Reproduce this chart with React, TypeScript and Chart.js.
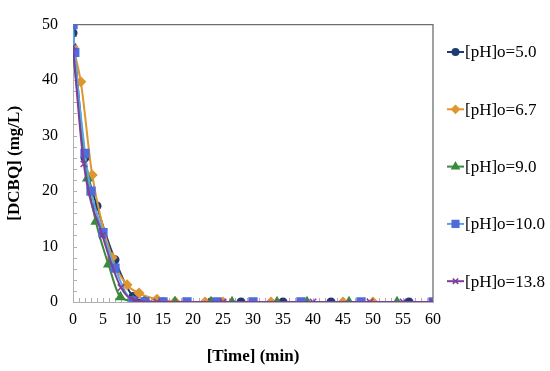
import React, { useEffect, useRef } from 'react';
import { Chart, registerables } from 'chart.js';
import { drawPoint } from 'chart.js/helpers';

Chart.register(...registerables);

const seriesLabels = ['[pH]o=5.0', '[pH]o=6.7', '[pH]o=9.0', '[pH]o=10.0', '[pH]o=13.8'];

const time50 = [0, 2, 4, 7, 10, 12, 15, 23, 28, 35, 43, 56];
const dcbq50 = [48.5, 26, 17.3, 7.6, 1.0, 0.2, 0, 0, 0, 0, 0, 0];

const time67 = [0, 1.3, 3.2, 6.5, 9, 11, 14, 17, 22, 25, 33, 45, 50];
const dcbq67 = [46, 39.7, 22.9, 8, 3.1, 1.6, 0.5, 0.1, 0, 0, 0, 0, 0];

const time90 = [0, 2.4, 3.8, 5.9, 7.9, 10, 12, 17, 23, 26.5, 34, 39, 46, 54];
const dcbq90 = [45, 22.3, 14.5, 6.8, 0.9, 0.2, 0, 0, 0, 0, 0, 0, 0, 0];

const time100 = [0, 0.3, 2, 3, 5, 7, 10, 12, 15, 19, 24, 30, 38, 48, 60];
const dcbq100 = [50, 45, 26.8, 20, 12.5, 6.1, 0.2, 0, 0, 0, 0, 0, 0, 0, 0];

const time138 = [0, 1.8, 4.9, 8, 10.3, 14, 25, 40, 49.5, 55, 60];
const dcbq138 = [46, 24.9, 12, 2.6, 0.3, 0, 0, 0, 0, 0, 0];

const xTicks = { min: 0, max: 60, step: 5 };
const yTicks = { min: 0, max: 50, step: 10 };

const FONT = '"Liberation Serif", "Times New Roman", serif';

const toPoints = (t: number[], v: number[]) => t.map((x, i) => ({ x, y: v[i] }));

const styles = [
  { line: '#1F3B73', fill: '#1F3B73', point: 'circle', r: 3.8 },
  { line: '#E0962E', fill: '#E0962E', point: 'rectRot', r: 4.5 },
  { line: '#3A8A3A', fill: '#3A8A3A', point: 'triangle', r: 4.8 },
  { line: '#55A8E0', fill: '#4F6CD8', point: 'rect', r: 5.5 },
  { line: '#7E3D9A', fill: '#7E3D9A', point: 'crossRot', r: 4.5 },
];

const framePlugin = {
  id: 'frame',
  beforeDatasetsDraw(chart: any) {
    const { ctx, chartArea } = chart;
    const { left, right, top, bottom } = chartArea;
    const xs = chart.scales.x;
    const ys = chart.scales.y;
    ctx.save();
    ctx.strokeStyle = '#6f6f6f';
    ctx.lineWidth = 1.3;
    ctx.beginPath();
    ctx.moveTo(left, top);
    ctx.lineTo(right, top);
    ctx.lineTo(right, bottom);
    ctx.stroke();
    ctx.strokeStyle = '#b0b0b0';
    ctx.lineWidth = 1;
    ctx.beginPath();
    for (let t = xTicks.min; t <= xTicks.max; t += 1) {
      const px = Math.round(xs.getPixelForValue(t)) + 0.5;
      ctx.moveTo(px, bottom);
      ctx.lineTo(px, bottom - 4);
    }
    for (let v = yTicks.min; v <= yTicks.max; v += 2) {
      const py = Math.round(ys.getPixelForValue(v)) + 0.5;
      ctx.moveTo(left, py);
      ctx.lineTo(left + 4, py);
    }
    ctx.stroke();
    ctx.restore();
  },
};

const legendPlugin = {
  id: 'customLegend',
  afterDraw(chart: any) {
    const { ctx } = chart;
    const x0 = chart.chartArea.right + 14;
    ctx.save();
    chart.data.datasets.forEach((ds: any, i: number) => {
      const y = 52 + i * 57.3;
      ctx.strokeStyle = ds.borderColor;
      ctx.lineWidth = 2;
      ctx.beginPath();
      ctx.moveTo(x0, y);
      ctx.lineTo(x0 + 17, y);
      ctx.stroke();
      ctx.fillStyle = ds.pointBackgroundColor;
      ctx.strokeStyle = ds.pointBorderColor;
      ctx.lineWidth = 1.5;
      drawPoint(ctx, { pointStyle: ds.pointStyle, radius: ds.pointRadius * 0.85, borderWidth: 1.5, rotation: 0 } as any, x0 + 8.5, y);
      ctx.fillStyle = '#000';
      ctx.font = `17px ${FONT}`;
      ctx.textBaseline = 'middle';
      ctx.textAlign = 'left';
      ctx.fillText(ds.label, x0 + 18, y + 1);
    });
    ctx.restore();
  },
};

export default function App() {
  const ref = useRef<HTMLCanvasElement>(null);
  useEffect(() => {
    document.body.style.margin = '0';
    const series = [
      toPoints(time50, dcbq50),
      toPoints(time67, dcbq67),
      toPoints(time90, dcbq90),
      toPoints(time100, dcbq100),
      toPoints(time138, dcbq138),
    ];
    const chart = new Chart(ref.current as HTMLCanvasElement, {
      type: 'scatter',
      data: {
        datasets: series.map((pts, i) => ({
          label: seriesLabels[i],
          data: pts,
          showLine: true,
          borderColor: styles[i].line,
          backgroundColor: styles[i].fill,
          borderWidth: 2,
          cubicInterpolationMode: 'monotone',
          pointStyle: styles[i].point,
          pointRadius: styles[i].r,
          pointBackgroundColor: styles[i].fill,
          pointBorderColor: styles[i].fill,
          pointBorderWidth: 1.5,
          order: i === 4 ? 0 : 5 - i,
        })) as any,
      },
      options: {
        animation: false,
        responsive: false,
        maintainAspectRatio: false,
        layout: { padding: { top: 12, right: 117, left: 0, bottom: 0 } },
        plugins: { legend: { display: false }, tooltip: { enabled: false } },
        scales: {
          x: {
            type: 'linear',
            min: xTicks.min,
            max: xTicks.max,
            ticks: { stepSize: xTicks.step, color: '#000', font: { family: FONT, size: 16 }, padding: 8, maxRotation: 0 },
            grid: { display: false, drawTicks: false },
            border: { display: true, color: '#b0b0b0', width: 1 },
            title: { display: true, text: '[Time] (min)', color: '#000', font: { family: FONT, size: 17, weight: 'bold' }, padding: { top: 0, bottom: 4 } },
            afterFit: (s: any) => { s.height = 69; },
          },
          y: {
            type: 'linear',
            min: yTicks.min,
            max: yTicks.max,
            ticks: { stepSize: yTicks.step, color: '#000', font: { family: FONT, size: 16 }, padding: 15 },
            grid: { display: false, drawTicks: false },
            border: { display: true, color: '#b0b0b0', width: 1 },
            title: { display: true, text: '[DCBQ] (mg/L)', color: '#000', font: { family: FONT, size: 17, weight: 'bold' }, padding: { top: 4, bottom: 0 } },
            afterFit: (s: any) => { s.width = 73; },
          },
        },
      } as any,
      plugins: [framePlugin, legendPlugin],
    });
    return () => chart.destroy();
  }, []);
  return (
    <div style={{ width: 550, height: 371, background: '#fff' }}>
      <canvas ref={ref} width={550} height={371} />
    </div>
  );
}
